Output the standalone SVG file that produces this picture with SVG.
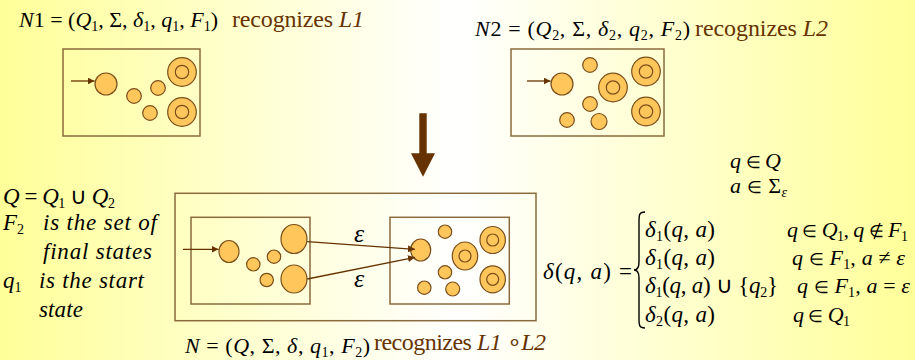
<svg xmlns="http://www.w3.org/2000/svg" width="915" height="360" viewBox="0 0 915 360">
<defs>
<linearGradient id="bg" x1="0" y1="0" x2="1" y2="0">
<stop offset="0" stop-color="#FFFF99"/>
<stop offset="0.5" stop-color="#FFFFFF"/>
<stop offset="1" stop-color="#FFFF99"/>
</linearGradient>
<marker id="ah" viewBox="0 0 10 10" refX="10" refY="5" markerWidth="7" markerHeight="7" markerUnits="userSpaceOnUse" orient="auto">
<path d="M0,0 L10,5 L0,10 z" fill="#663300"/>
</marker>
</defs>
<style>
.m{font-family:"Liberation Serif","Times New Roman",serif;font-size:22px;fill:#000}
.b{font-size:23px}
.i{font-style:italic}
.s{font-size:14px}
.e{font-size:17px}
.r{fill:#663300;font-size:24px}
.box{fill:none;stroke:#8B6B3D;stroke-width:1.5}
.st{fill:#FFC65C;stroke:#7A4F1A;stroke-width:1.2}
.in{fill:none;stroke:#7A4F1A;stroke-width:1.2}
.ln{stroke:#663300;stroke-width:1.3;fill:none}
</style>
<rect x="0" y="0" width="915" height="360" fill="url(#bg)"/>

<!-- N1 title -->
<g id="title1">
<text x="19" y="27" class="m" textLength="199"><tspan class="i">N</tspan>1 = (<tspan class="i">Q</tspan><tspan class="s" dy="4">1</tspan><tspan dy="-4">, Σ, </tspan><tspan class="i">δ</tspan><tspan class="s" dy="4">1</tspan><tspan dy="-4">, </tspan><tspan class="i">q</tspan><tspan class="s" dy="4">1</tspan><tspan dy="-4">, </tspan><tspan class="i">F</tspan><tspan class="s" dy="4">1</tspan><tspan dy="-4">)</tspan></text>
<text x="232" y="27" class="m r" textLength="132">recognizes <tspan class="i">L1</tspan></text>
</g>

<!-- N1 machine -->
<g id="N1">
<rect class="box" x="63" y="49" width="137" height="87"/>
<circle class="st" cx="106" cy="84" r="11"/>
<circle class="st" cx="134" cy="96" r="7.3"/>
<circle class="st" cx="158" cy="88" r="7.3"/>
<circle class="st" cx="150" cy="113" r="7.3"/>
<circle class="st" cx="182" cy="72" r="14.3"/><circle class="in" cx="182" cy="72" r="6.7"/>
<circle class="st" cx="182" cy="112" r="14.3"/><circle class="in" cx="182" cy="112" r="6.7"/>
</g>

<!-- N2 title -->
<g id="title2">
<text x="475" y="36" class="m" textLength="215"><tspan class="i">N</tspan>2 = (<tspan class="i">Q</tspan><tspan class="s" dy="4">2</tspan><tspan dy="-4">, Σ, </tspan><tspan class="i">δ</tspan><tspan class="s" dy="4">2</tspan><tspan dy="-4">, </tspan><tspan class="i">q</tspan><tspan class="s" dy="4">2</tspan><tspan dy="-4">, </tspan><tspan class="i">F</tspan><tspan class="s" dy="4">2</tspan><tspan dy="-4">)</tspan></text>
<text x="695" y="36" class="m r" textLength="133">recognizes <tspan class="i">L2</tspan></text>
</g>

<!-- N2 machine -->
<g id="N2">
<rect class="box" x="511" y="49" width="153" height="87"/>
<circle class="st" cx="562" cy="84" r="11"/>
<circle class="st" cx="590" cy="65" r="7.3"/>
<circle class="st" cx="590" cy="104" r="7.3"/>
<circle class="st" cx="567" cy="120" r="7.3"/>
<circle class="st" cx="599" cy="121.5" r="8"/>
<circle class="st" cx="613" cy="87.5" r="14.3"/><circle class="in" cx="613" cy="87.5" r="6.7"/>
<circle class="st" cx="646" cy="71.5" r="14.3"/><circle class="in" cx="646" cy="71.5" r="6.7"/>
<circle class="st" cx="646" cy="111.5" r="14.3"/><circle class="in" cx="646" cy="111.5" r="6.7"/>
</g>

<!-- big down arrow -->
<g id="downarrow">
<path d="M419.3,113.3 H426.7 V153.3 H435 L423,176.7 L411,153.3 H419.3 Z" fill="#663300"/>
</g>

<!-- combined machine N -->
<g id="N">
<rect class="box" x="175" y="193.3" width="361" height="127.4"/>
<rect class="box" x="191" y="217.3" width="119" height="86.7"/>
<rect class="box" x="390" y="217.3" width="119.3" height="86.7"/>
<ellipse class="st" cx="229" cy="251.5" rx="10" ry="11"/>
<circle class="st" cx="253.3" cy="264.3" r="6.7"/>
<circle class="st" cx="274" cy="256.7" r="6.7"/>
<circle class="st" cx="266.7" cy="280" r="6.7"/>
<ellipse class="st" cx="294" cy="239" rx="13" ry="14.5"/>
<ellipse class="st" cx="294" cy="279" rx="13" ry="14"/>
<ellipse class="st" cx="420.7" cy="250" rx="10" ry="11"/>
<circle class="st" cx="445" cy="231.7" r="6.7"/>
<circle class="st" cx="445" cy="272.3" r="6.7"/>
<circle class="st" cx="424.3" cy="287.7" r="6.7"/>
<circle class="st" cx="452.7" cy="289" r="7"/>
<ellipse class="st" cx="465" cy="256" rx="12.7" ry="14"/><circle class="in" cx="465" cy="256" r="6"/>
<ellipse class="st" cx="492.7" cy="240" rx="12.7" ry="13.5"/><circle class="in" cx="492.7" cy="240" r="6"/>
<ellipse class="st" cx="492.7" cy="279.3" rx="12.7" ry="13.5"/><circle class="in" cx="492.7" cy="279.3" r="6"/>
</g>

<!-- connectors -->
<g id="connectors">
<line class="ln" x1="71" y1="81" x2="94.5" y2="81" marker-end="url(#ah)"/>
<line class="ln" x1="527" y1="81" x2="550.5" y2="81" marker-end="url(#ah)"/>
<line class="ln" x1="183" y1="249.3" x2="218.5" y2="249.3" marker-end="url(#ah)"/>
<line class="ln" x1="307.3" y1="241.7" x2="415" y2="249.3" marker-end="url(#ah)"/>
<line class="ln" x1="307.3" y1="279" x2="415" y2="257.3" marker-end="url(#ah)"/>
<text x="354" y="241.5" class="m i" style="font-size:26px">ε</text>
<text x="354" y="286.5" class="m i" style="font-size:26px">ε</text>
</g>

<!-- bottom title -->
<g id="title3">
<text x="185" y="353" class="m" textLength="185"><tspan class="i">N</tspan> = (<tspan class="i">Q</tspan>, Σ, <tspan class="i">δ</tspan>, <tspan class="i">q</tspan><tspan class="s" dy="4">1</tspan><tspan dy="-4">, </tspan><tspan class="i">F</tspan><tspan class="s" dy="4">2</tspan><tspan dy="-4">)</tspan></text>
<text x="374" y="350" class="m r" textLength="172">recognizes <tspan class="i">L1</tspan> ∘<tspan class="i">L2</tspan></text>
</g>

<!-- left notes -->
<g id="notes">
<text x="3" y="204" class="m b" textLength="112"><tspan class="i">Q</tspan> = <tspan class="i">Q</tspan><tspan class="s" dy="4">1</tspan><tspan dy="-4"> ∪ </tspan><tspan class="i">Q</tspan><tspan class="s" dy="4">2</tspan></text>
<text x="3" y="230" class="m b i">F<tspan class="s" dy="4" style="font-style:normal">2</tspan></text>
<text x="43" y="230" class="m b i" textLength="114">is the set of</text>
<text x="43" y="259" class="m b i" textLength="109">final states</text>
<text x="3" y="288" class="m b i">q<tspan class="s" dy="4" style="font-style:normal">1</tspan></text>
<text x="39" y="288" class="m b i" textLength="105">is the start</text>
<text x="39" y="317" class="m b i" textLength="44">state</text>
</g>

<!-- transition function -->
<g id="delta">
<text x="730" y="168" class="m" textLength="51"><tspan class="i">q</tspan> <tspan class="e">∈</tspan> <tspan class="i">Q</tspan></text>
<text x="730" y="193" class="m" textLength="57"><tspan class="i">a</tspan> <tspan class="e">∈</tspan> Σ<tspan class="s i" dy="4">ε</tspan></text>
<text x="543" y="279" class="m b" textLength="89"><tspan class="i">δ</tspan>(<tspan class="i">q</tspan>, <tspan class="i">a</tspan>) =</text>
<path d="M645,212 C639,212 639,215 639,222 V262 C639,268 637,270 634,270 C637,270 639,272 639,278 V318 C639,325 639,328 645,328" fill="none" stroke="#000" stroke-width="1.4"/>
<text x="645" y="237" class="m b" textLength="70"><tspan class="i">δ</tspan><tspan class="s" dy="4">1</tspan><tspan dy="-4">(</tspan><tspan class="i">q</tspan>, <tspan class="i">a</tspan>)</text>
<text x="645" y="265" class="m b" textLength="70"><tspan class="i">δ</tspan><tspan class="s" dy="4">1</tspan><tspan dy="-4">(</tspan><tspan class="i">q</tspan>, <tspan class="i">a</tspan>)</text>
<text x="645" y="293" class="m b" textLength="133"><tspan class="i">δ</tspan><tspan class="s" dy="4">1</tspan><tspan dy="-4">(</tspan><tspan class="i">q</tspan>, <tspan class="i">a</tspan>) ∪ {<tspan class="i">q</tspan><tspan class="s" dy="4">2</tspan><tspan dy="-4">}</tspan></text>
<text x="645" y="322" class="m b" textLength="70"><tspan class="i">δ</tspan><tspan class="s" dy="4">2</tspan><tspan dy="-4">(</tspan><tspan class="i">q</tspan>, <tspan class="i">a</tspan>)</text>
<text x="787" y="237" class="m" textLength="121"><tspan class="i">q</tspan> <tspan class="e">∈</tspan> <tspan class="i">Q</tspan><tspan class="s" dy="4">1</tspan><tspan dy="-4">, </tspan><tspan class="i">q</tspan> <tspan class="e">∉</tspan> <tspan class="i">F</tspan><tspan class="s" dy="4">1</tspan></text>
<text x="792" y="265" class="m" textLength="113"><tspan class="i">q</tspan> <tspan class="e">∈</tspan> <tspan class="i">F</tspan><tspan class="s" dy="4">1</tspan><tspan dy="-4">, </tspan><tspan class="i">a</tspan> ≠ <tspan class="i">ε</tspan></text>
<text x="797" y="293" class="m" textLength="113"><tspan class="i">q</tspan> <tspan class="e">∈</tspan> <tspan class="i">F</tspan><tspan class="s" dy="4">1</tspan><tspan dy="-4">, </tspan><tspan class="i">a</tspan> = <tspan class="i">ε</tspan></text>
<text x="793" y="322" class="m" textLength="57"><tspan class="i">q</tspan> <tspan class="e">∈</tspan> <tspan class="i">Q</tspan><tspan class="s" dy="4">1</tspan></text>
</g>
</svg>
